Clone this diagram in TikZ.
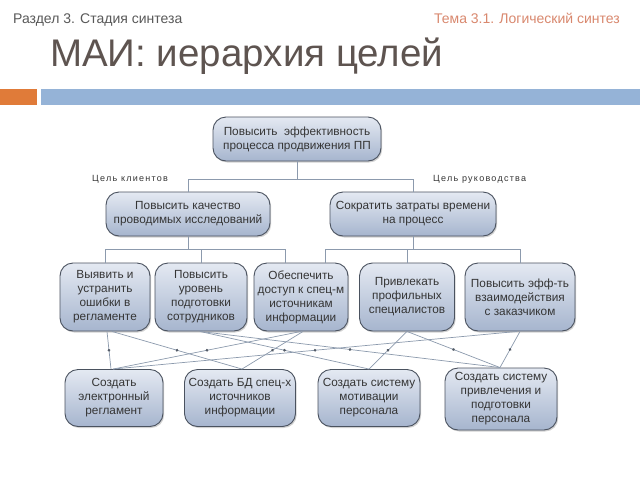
\documentclass[tikz,border=0pt]{standalone}
\usepackage{fontspec}
\setmainfont{Liberation Sans}
\usetikzlibrary{shadows,decorations.markings}
\definecolor{boxtop}{HTML}{E4E9F2}
\definecolor{boxbot}{HTML}{A6B5CE}
\definecolor{boxborder}{HTML}{4A525F}
\definecolor{txtgray}{HTML}{353535}
\definecolor{linecol}{HTML}{8C9AAD}
\definecolor{hdrgray}{HTML}{595959}
\definecolor{hdrorange}{HTML}{D9886E}
\definecolor{titlecol}{HTML}{5E5450}
\definecolor{barorange}{HTML}{E07B39}
\definecolor{barblue}{HTML}{95B3D7}
\tikzset{
  goal/.style={draw=boxborder, line width=0.9pt, rounded corners=13pt,
    top color=boxtop, bottom color=boxbot, align=center, text=txtgray,
    font=\fontsize{11.8}{14}\selectfont, inner sep=1pt,
    drop shadow={shadow xshift=1.2pt, shadow yshift=-1.5pt, fill=black, opacity=0.18}},
  tree/.style={draw=linecol, line width=0.8pt},
  link/.style={draw=linecol, line width=0.7pt,
    postaction={decorate, decoration={markings, mark=at position 0.5 with {\fill[linecol!60!black] (0,0) circle (1.5pt);}}}},
  goallabel/.style={font=\addfontfeature{LetterSpace=14}\fontsize{9}{10}\selectfont, text=txtgray, inner sep=0pt},
}
\begin{document}
\begin{tikzpicture}[x=1pt,y=-1pt]
\useasboundingbox (0,0) rectangle (640,480);
\fill[white] (0,0) rectangle (640,480);
% header
\node[anchor=base west, font=\fontsize{14}{16}\selectfont, text=hdrgray, inner sep=0pt] (hdrl) at (13,23) {Раздел 3. Стадия синтеза};
\node[anchor=base east, font=\fontsize{14}{16}\selectfont, text=hdrorange, inner sep=0pt] (hdrr) at (620,23) {Тема 3.1. Логический синтез};
\node[anchor=base west, font=\fontsize{38.5}{44}\selectfont, text=titlecol, inner sep=0pt] (title) at (50,66) {МАИ: иерархия целей};
\fill[barorange] (0,89) rectangle (37,105);
\fill[barblue] (41,89) rectangle (640,105);

% boxes
\node[goal, minimum width=168pt, minimum height=44pt] (T) at (297,139) {Повысить \ эффективность\\процесса продвижения ПП};
\node[goal, minimum width=164pt, minimum height=44pt] (A1) at (188,214) {Повысить качество\\проводимых исследований};
\node[goal, minimum width=166pt, minimum height=44pt] (A2) at (413,214) {Сократить затраты времени\\на процесс};

\node[goal, minimum width=90pt, minimum height=68pt] (B1) at (105,297) {Выявить и\\устранить\\ошибки в\\регламенте};
\node[goal, minimum width=92pt, minimum height=68pt] (B2) at (201,297) {Повысить\\уровень\\подготовки\\сотрудников};
\node[goal, minimum width=94pt, minimum height=68pt] (B3) at (301,297) {Обеспечить\\доступ к спец-м\\источникам\\информации};
\node[goal, minimum width=95pt, minimum height=68pt] (B4) at (407,297) {Привлекать\\профильных\\специалистов};
\node[goal, minimum width=110pt, minimum height=68pt] (B5) at (520,297) {Повысить эфф-ть\\взаимодействия\\с заказчиком};

\node[goal, minimum width=98pt, minimum height=57pt] (C1) at (114,398) {Создать\\электронный\\регламент};
\node[goal, minimum width=111pt, minimum height=57pt] (C2) at (240,398) {Создать БД спец-х\\источников\\информации};
\node[goal, minimum width=102pt, minimum height=57pt] (C3) at (369,398) {Создать систему\\мотивации\\персонала};
\node[goal, minimum width=112pt, minimum height=62pt] (C4) at (501,399) {Создать систему\\привлечения и\\подготовки\\персонала};

% labels
\node[goallabel, anchor=base west] (lk) at (92,181) {Цель клиентов};
\node[goallabel, anchor=base west] (lr) at (433,181) {Цель руководства};

% tree connectors
\draw[tree] (T.south) -- ++(0,18) coordinate (tj) -| (A1.north);
\draw[tree] (tj) -| (A2.north);
\draw[tree] (A1.south) -- ++(0,13) coordinate (aj) -| (B1.north);
\draw[tree] (aj) -| (B2.north);
\draw[tree] (aj) -| ([xshift=-16pt]B3.north);
\draw[tree] (A2.south) -- ++(0,13) coordinate (bj) -| ([xshift=24pt]B3.north);
\draw[tree] (bj) -| (B4.north);
\draw[tree] (bj) -| (B5.north);

% cross links
\draw[link] ([xshift=2pt]B1.south) -- ([xshift=-3pt]C1.north);
\draw[link] ([xshift=7pt]B1.south) -- ([xshift=2pt]C2.north);
\draw[link] ([xshift=-1pt]B2.south) -- (C3.north);
\draw[link] ([xshift=-1pt]B2.south) -- ([xshift=-1pt]C4.north);
\draw[link] (B3.south) -- ([xshift=-1pt]C1.north);
\draw[link] ([xshift=2pt]B3.south) -- ([xshift=2pt]C2.north);
\draw[link] (B4.south) -- (C3.north);
\draw[link] (B4.south) -- ([xshift=-1pt]C4.north);
\draw[link] ([xshift=-3pt]B5.south) -- ([xshift=-1pt]C1.north);
\draw[link] (B5.south) -- ([xshift=-1pt]C4.north);
\end{tikzpicture}
\end{document}
